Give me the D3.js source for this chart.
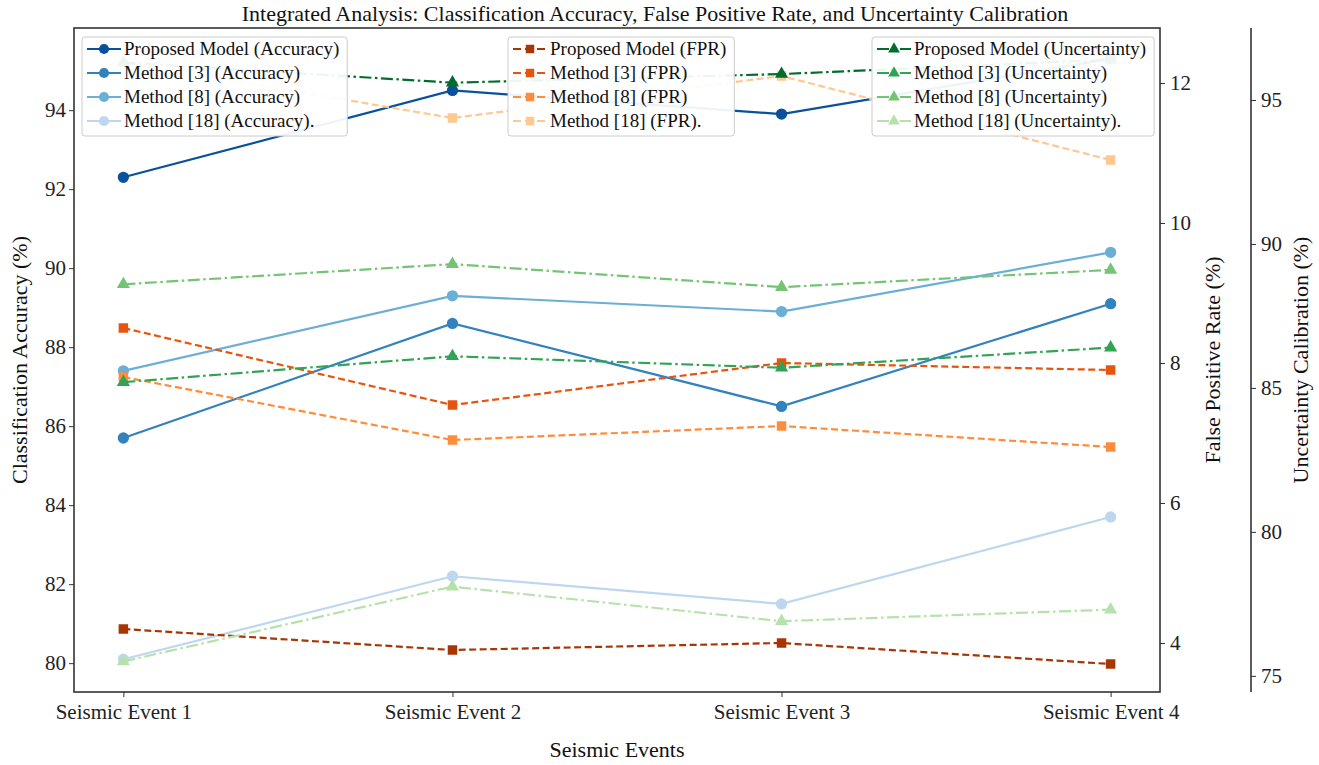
<!doctype html>
<html lang="en">
<head>
  <meta charset="utf-8">
  <title>Integrated Analysis</title>
  <script src="https://d3js.org/d3.v7.min.js"></script>
  <style>
    body { margin: 0; background: #fff; }
    svg { display: block; font-family: "Liberation Serif", "Times New Roman", serif; }
  </style>
</head>
<body>
  <div id="container"></div>

  <script>
    // data
    var events = ["Seismic Event 1", "Seismic Event 2", "Seismic Event 3", "Seismic Event 4"];
    var methods = ["Proposed Model", "Method [3]", "Method [8]", "Method [18]"];

    var accuracy = [
      [92.3, 94.5, 93.9, 95.3],
      [85.7, 88.6, 86.5, 89.1],
      [87.4, 89.3, 88.9, 90.4],
      [80.1, 82.2, 81.5, 83.7]
    ];
    var fpr = [
      [4.2, 3.9, 4.0, 3.7],
      [8.5, 7.4, 8.0, 7.9],
      [7.8, 6.9, 7.1, 6.8],
      [12.3, 11.5, 12.1, 10.9]
    ];
    var uncertainty = [
      [96.3, 95.6, 95.9, 96.4],
      [85.2, 86.1, 85.7, 86.4],
      [88.6, 89.3, 88.5, 89.1],
      [75.5, 78.1, 76.9, 77.3]
    ];

    var accTicks = [80, 82, 84, 86, 88, 90, 92, 94];
    var fprTicks = [4, 6, 8, 10, 12];
    var uncTicks = [75, 80, 85, 90, 95];

    var blues = ["#08519c", "#3182bd", "#6baed6", "#bdd7ee"];
    var oranges = ["#a63603", "#e6550d", "#fd8d3c", "#fdc891"];
    var greens = ["#006d2c", "#31a354", "#74c476", "#b5e2ab"];

    var W = 1319, H = 765;
    var pL = 74, pR = 1160, pT = 28, pB = 692, axis3 = 1251;
    var serif = "Liberation Serif, Times New Roman, serif";

    var svg = d3.select("#container").append("svg")
      .attr("width", W).attr("height", H);

    var x = d3.scalePoint().domain(events).range([pL, pR]).padding(0.15);
    var yAcc = d3.scaleLinear().domain([79.27, 96.08]).range([pB, pT]);
    var yFpr = d3.scaleLinear().domain([3.3, 12.786]).range([pB, pT]);
    var yUnc = d3.scaleLinear().domain([74.44, 97.5]).range([pB, pT]);

    // axes
    function styleAxis(g) {
      g.attr("font-family", serif).attr("font-size", 21);
      g.selectAll("text").attr("fill", "#222");
      g.selectAll(".tick line").attr("stroke", "#333").attr("stroke-width", 1);
      g.select(".domain").remove();
    }

    svg.append("g")
      .attr("transform", "translate(0," + pB + ")")
      .call(d3.axisBottom(x).tickSize(5).tickPadding(7))
      .call(styleAxis);

    svg.append("g")
      .attr("transform", "translate(" + pL + ",0)")
      .call(d3.axisLeft(yAcc).tickValues(accTicks).tickSize(5).tickPadding(3))
      .call(styleAxis);

    svg.append("g")
      .attr("transform", "translate(" + pR + ",0)")
      .call(d3.axisRight(yFpr).tickValues(fprTicks).tickSize(5).tickPadding(5))
      .call(styleAxis);

    svg.append("g")
      .attr("transform", "translate(" + axis3 + ",0)")
      .call(d3.axisRight(yUnc).tickValues(uncTicks).tickSize(5).tickPadding(5))
      .call(styleAxis);

    // labels
    svg.append("text")
      .attr("x", 655).attr("y", 21)
      .attr("text-anchor", "middle").style("font-size", "22px").attr("fill", "#111")
      .text("Integrated Analysis: Classification Accuracy, False Positive Rate, and Uncertainty Calibration");
    svg.append("text")
      .attr("x", (pL + pR) / 2).attr("y", 757)
      .attr("text-anchor", "middle").style("font-size", "22px").attr("fill", "#111")
      .text("Seismic Events");
    svg.append("text")
      .attr("transform", "translate(27," + (pT + pB) / 2 + ") rotate(-90)")
      .attr("text-anchor", "middle").style("font-size", "22px").attr("fill", "#111")
      .text("Classification Accuracy (%)");
    svg.append("text")
      .attr("transform", "translate(1220," + (pT + pB) / 2 + ") rotate(-90)")
      .attr("text-anchor", "middle").style("font-size", "22px").attr("fill", "#111")
      .text("False Positive Rate (%)");
    svg.append("text")
      .attr("transform", "translate(1308," + (pT + pB) / 2 + ") rotate(-90)")
      .attr("text-anchor", "middle").style("font-size", "22px").attr("fill", "#111")
      .text("Uncertainty Calibration (%)");

    // series config
    var groups = [
      { data: accuracy, y: yAcc, colors: blues, dash: null, legendDash: null, marker: d3.symbolCircle, size: 100, tag: "(Accuracy)" },
      { data: fpr, y: yFpr, colors: oranges, dash: "7,3.5", legendDash: "8,4", marker: d3.symbolSquare, size: 90, tag: "(FPR)" },
      { data: uncertainty, y: yUnc, colors: greens, dash: "12,3.5,2.5,3.5", legendDash: "12,4,3,4", marker: d3.symbolTriangle, size: 75, tag: "(Uncertainty)" }
    ];

    function drawLines(gr) {
      var g = svg.append("g");
      gr.data.forEach(function(vals, i) {
        var line = d3.line()
          .x(function(d, j) { return x(events[j]); })
          .y(function(d) { return gr.y(d); });
        g.append("path")
          .datum(vals)
          .attr("d", line)
          .attr("fill", "none")
          .attr("stroke", gr.colors[i])
          .attr("stroke-width", 2.2)
          .attr("stroke-dasharray", gr.dash);
        g.selectAll(null)
          .data(vals)
          .enter().append("path")
          .attr("d", d3.symbol().type(gr.marker).size(gr.size))
          .attr("transform", function(d, j) { return "translate(" + x(events[j]) + "," + gr.y(d) + ")"; })
          .attr("fill", gr.colors[i]);
      });
    }

    function drawLegend(gr, x0) {
      var g = svg.append("g");
      var box = g.append("rect")
        .attr("x", x0).attr("y", 37).attr("height", 99)
        .attr("rx", 3)
        .attr("fill", "#fff").attr("fill-opacity", 0.93)
        .attr("stroke", "#ccc").attr("stroke-width", 1);
      var maxW = 0;
      methods.forEach(function(m, i) {
        var yy = 49 + i * 24;
        g.append("line")
          .attr("x1", x0 + 5).attr("x2", x0 + 39).attr("y1", yy).attr("y2", yy)
          .attr("stroke", gr.colors[i]).attr("stroke-width", 2.2)
          .attr("stroke-dasharray", gr.legendDash);
        g.append("path")
          .attr("d", d3.symbol().type(gr.marker).size(gr.size * 0.8))
          .attr("transform", "translate(" + (x0 + 22) + "," + yy + ")")
          .attr("fill", gr.colors[i]);
        var t = g.append("text")
          .attr("x", x0 + 42).attr("y", yy + 6)
          .style("font-size", "19px").attr("fill", "#111")
          .text(m + " " + gr.tag + (i === 3 ? "." : ""));
        maxW = Math.max(maxW, t.node().getComputedTextLength());
      });
      box.attr("width", 42 + maxW + 8);
    }

    groups.forEach(drawLines);
    drawLegend(groups[0], 82);
    drawLegend(groups[1], 508);
    drawLegend(groups[2], 872);

    // frame + third spine
    svg.append("rect")
      .attr("x", pL).attr("y", pT)
      .attr("width", pR - pL).attr("height", pB - pT)
      .attr("fill", "none").attr("stroke", "#333").attr("stroke-width", 1.6);
    svg.append("line")
      .attr("x1", axis3).attr("x2", axis3).attr("y1", pT).attr("y2", pB)
      .attr("stroke", "#333").attr("stroke-width", 1.6);
  </script>
</body>
</html>
